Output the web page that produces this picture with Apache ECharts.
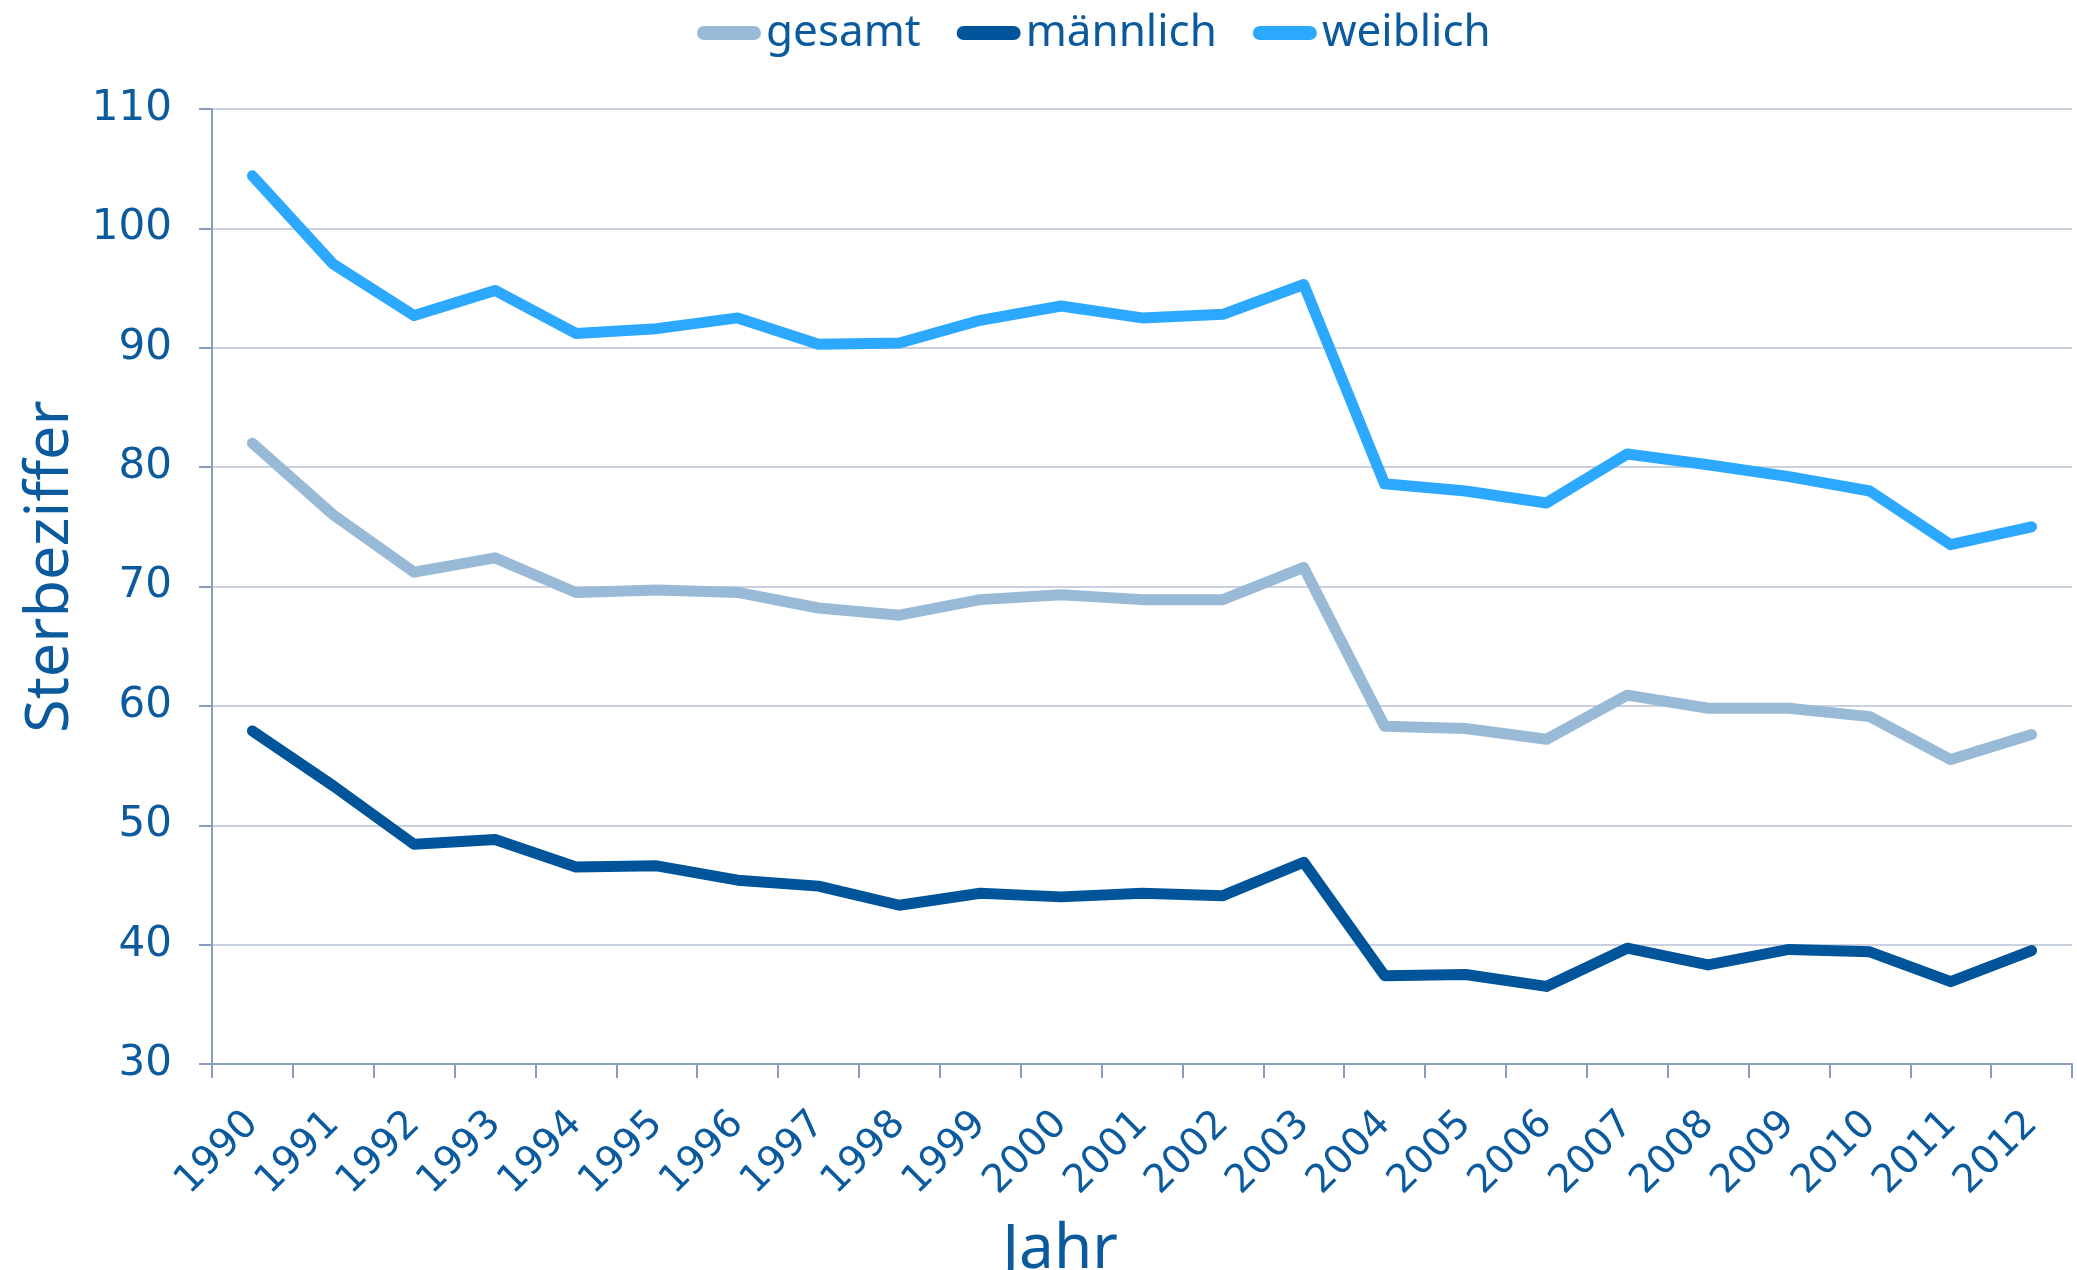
<!DOCTYPE html>
<html>
<head>
<meta charset="utf-8">
<script src="https://cdn.jsdelivr.net/npm/echarts@6/dist/echarts.min.js"></script>
<style>html,body{margin:0;padding:0;background:#fff}#c{width:2077px;height:1270px}</style>
</head>
<body>
<div id="c"></div>
<script>
const years = ['1990','1991','1992','1993','1994','1995','1996','1997','1998','1999','2000','2001','2002','2003','2004','2005','2006','2007','2008','2009','2010','2011','2012'];
const gesamt = [82.0,76.0,71.2,72.4,69.5,69.7,69.5,68.2,67.6,68.9,69.3,68.9,68.9,71.6,58.3,58.1,57.2,60.9,59.8,59.8,59.1,55.5,57.6];
const maennlich = [57.9,53.3,48.4,48.8,46.5,46.6,45.4,44.9,43.3,44.3,44.0,44.3,44.1,46.9,37.4,37.5,36.5,39.7,38.3,39.6,39.4,36.9,39.5];
const weiblich = [104.4,97.0,92.7,94.8,91.2,91.6,92.5,90.3,90.4,92.3,93.5,92.5,92.8,95.3,78.6,78.0,77.0,81.1,80.2,79.2,78.0,73.5,75.0];
const yTicks = {min:30, max:110, interval:10};

const textColor = '#0B5A9E';
const axisColor = '#8A9CC0';
const gridColor = '#B7C2D6';
const capsule = 'path://M7,0 H57 A7,7 0 0 1 57,14 H7 A7,7 0 0 1 7,0 Z';

const chart = echarts.init(document.getElementById('c'), null, {renderer:'canvas'});
const mk = (name, data, color) => ({
  name, type:'line', data, symbol:'none', smooth:false,
  lineStyle:{color, width:11, cap:'round', join:'round'},
  itemStyle:{color}
});
chart.setOption({
  animation:false,
  backgroundColor:'#fff',
  legend:{
    top:6, left:692,
    itemWidth:64, itemHeight:14, itemGap:36, itemTextGap:-3,
    icon:capsule,
    textStyle:{color:textColor, fontSize:44, fontFamily:'Noto Sans'},
    data:[
      {name:'gesamt', itemStyle:{color:'#99BAD6'}},
      {name:'männlich', itemStyle:{color:'#00559A'}},
      {name:'weiblich', itemStyle:{color:'#2CA8FF'}}
    ]
  },
  grid:{left:212, right:5, top:109, bottom:206, containLabel:false, outerBoundsMode:'none'},
  xAxis:{
    type:'category', data:years, boundaryGap:true,
    name:'Jahr', nameLocation:'middle', nameGap:155,
    nameTextStyle:{color:textColor, fontSize:62, fontFamily:'Noto Sans', padding:[0,164,0,0]},
    axisLine:{show:true, lineStyle:{color:axisColor, width:2}},
    axisTick:{show:true, length:14, lineStyle:{color:axisColor, width:2}},
    axisLabel:{rotate:45, color:textColor, fontSize:39, fontFamily:'DejaVu Sans', margin:54, interval:0},
    splitLine:{show:false}
  },
  yAxis:{
    type:'value', min:yTicks.min, max:yTicks.max, interval:yTicks.interval,
    name:'Sterbeziffer', nameLocation:'middle', nameGap:128,
    nameTextStyle:{color:textColor, fontSize:61, fontFamily:'Noto Sans', padding:[0,0,0,40]},
    axisLine:{show:true, lineStyle:{color:axisColor, width:2}},
    axisTick:{show:true, length:13, lineStyle:{color:axisColor, width:2}},
    axisLabel:{color:textColor, fontSize:42, fontFamily:'DejaVu Sans', margin:40},
    splitLine:{show:true, lineStyle:{color:gridColor, width:1.5}}
  },
  series:[
    mk('gesamt', gesamt, '#99BAD6'),
    mk('männlich', maennlich, '#00559A'),
    mk('weiblich', weiblich, '#2CA8FF')
  ]
});
</script>
</body>
</html>
